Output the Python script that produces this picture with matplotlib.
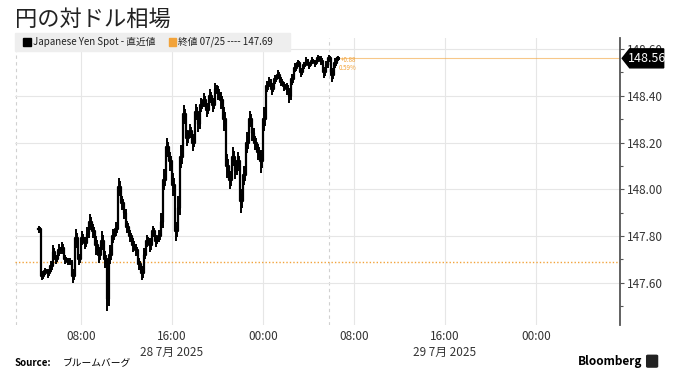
import numpy as np
import matplotlib
matplotlib.use("Agg")
import matplotlib.pyplot as plt
from matplotlib.patches import Rectangle, Polygon, FancyBboxPatch

plt.rcParams['font.family'] = ['Noto Sans CJK JP', 'DejaVu Sans']

# yen per dollar, 15 minute steps from 28 Jul 04:15 (hours since 28 Jul 00:00)
start_hour = 4.25
step_hour = 0.25
usdjpy = [147.83, 147.63, 147.65, 147.64, 147.67, 147.73, 147.70, 147.74, 147.75, 147.70,
          147.69, 147.69, 147.63, 147.79, 147.70, 147.79, 147.77, 147.81, 147.86, 147.82,
          147.76, 147.72, 147.78, 147.70, 147.53, 147.72, 147.80, 147.83, 148.01, 147.94,
          147.90, 147.84, 147.80, 147.76, 147.74, 147.68, 147.64, 147.72, 147.78, 147.76,
          147.82, 147.78, 147.80, 147.86, 148.04, 148.18, 148.12, 148.02, 147.82, 147.92,
          148.14, 148.32, 148.22, 148.25, 148.20, 148.33, 148.28, 148.36, 148.38, 148.34,
          148.40, 148.36, 148.43, 148.41, 148.38, 148.30, 148.10, 148.04, 148.14, 148.08,
          148.12, 147.95, 148.06, 148.20, 148.30, 148.24, 148.20, 148.16, 148.12, 148.30,
          148.44, 148.46, 148.43, 148.47, 148.49, 148.46, 148.44, 148.43, 148.40, 148.47,
          148.52, 148.54, 148.50, 148.53, 148.55, 148.53, 148.55, 148.54, 148.56, 148.55,
          148.50, 148.53, 148.56, 148.49, 148.54, 148.56]
# high-low range inside each 15 minute step
step_range = [0.03, 0.04, 0.03, 0.04, 0.05, 0.06, 0.04, 0.05, 0.05, 0.04,
              0.03, 0.03, 0.06, 0.08, 0.05, 0.06, 0.05, 0.06, 0.07, 0.06,
              0.08, 0.07, 0.08, 0.07, 0.10, 0.08, 0.06, 0.06, 0.08, 0.06,
              0.05, 0.05, 0.05, 0.06, 0.05, 0.05, 0.06, 0.06, 0.05, 0.06,
              0.05, 0.05, 0.05, 0.08, 0.09, 0.08, 0.08, 0.10, 0.08, 0.10,
              0.10, 0.08, 0.07, 0.06, 0.07, 0.07, 0.07, 0.06, 0.06, 0.06,
              0.06, 0.06, 0.05, 0.06, 0.07, 0.10, 0.10, 0.08, 0.08, 0.07,
              0.08, 0.10, 0.08, 0.09, 0.07, 0.07, 0.06, 0.07, 0.10, 0.10,
              0.05, 0.04, 0.05, 0.04, 0.04, 0.04, 0.04, 0.05, 0.06, 0.05,
              0.04, 0.03, 0.04, 0.03, 0.03, 0.03, 0.03, 0.03, 0.03, 0.04,
              0.05, 0.04, 0.03, 0.06, 0.04, 0.02]
prev_close = 147.69
last_value = 148.56
change_txt = ['+0.88', '0.59%']

tick_hours = [8, 16, 24, 32, 40, 48]
tick_labels = ['08:00', '16:00', '00:00', '08:00', '16:00', '00:00']
date_hours = [16, 40]
date_labels = ['28 7月 2025', '29 7月 2025']
session_lines = [2.3, 29.8]

hours = start_hour + step_hour * np.arange(len(usdjpy))
vals = np.array(usdjpy)
half = np.array(step_range) / 2

orange = '#f2a33a'
grid_c = '#e6e6e6'

fig = plt.figure(figsize=(6.8, 3.8), dpi=100)
ax = fig.add_axes([0.022, 0.145, 0.89, 0.755])

ax.set_xlim(2.2, 55.4)
ax.set_ylim(147.42, 148.647)

for h in tick_hours:
    ax.axvline(h, color=grid_c, lw=0.8, zorder=0)
for h in session_lines:
    ax.axvline(h, color='#d0d0d0', lw=0.8, ls=(0, (3, 3)), zorder=0)
for v in np.arange(147.6, 148.61, 0.2):
    ax.axhline(v, color=grid_c, lw=0.8, zorder=0)

ax.axhline(prev_close, color=orange, lw=1.0, ls=(0, (1, 1.5)), zorder=1)
ax.plot([hours[-1], 55.4], [last_value, last_value], color=orange, lw=0.8, alpha=0.6, zorder=1)

# intra-step swings, then the closing path on top
ax.vlines(hours + step_hour * 0.3, vals - half, vals + half, color='black', lw=1.4, zorder=3)
ax.vlines(hours + step_hour * 0.7, vals - half * 0.6, vals + half * 0.6, color='black',
          lw=1.4, zorder=3)
ax.plot(hours, vals, color='black', lw=1.6, drawstyle='steps-post', zorder=3)

ax.text(hours[-1] + 0.35, last_value - 0.005, change_txt[0], color=orange, fontsize=4.5,
        va='center', ha='left')
ax.text(hours[-1] + 0.2, last_value - 0.042, change_txt[1], color=orange, fontsize=4.5,
        va='center', ha='left')

for s in ['left', 'top', 'bottom']:
    ax.spines[s].set_visible(False)
ax.spines['right'].set_color('#555555')
ax.spines['right'].set_linewidth(1.3)

ax.yaxis.tick_right()
ax.set_yticks(np.arange(147.6, 148.61, 0.2))
ax.set_yticklabels([f'{v:.2f}' for v in np.arange(147.6, 148.61, 0.2)])
ax.set_yticks(np.arange(147.5, 148.61, 0.2), minor=True)
ax.tick_params(axis='y', which='major', length=3, width=0.8, color='#555555',
               labelsize=8.5, labelcolor='#333333', pad=2)
ax.tick_params(axis='y', which='minor', length=2.5, width=0.8, color='#555555')

ax.set_xticks(tick_hours)
ax.set_xticklabels(tick_labels)
ax.tick_params(axis='x', length=0, labelsize=8.5, labelcolor='#333333', pad=4)
for h, lab in zip(date_hours, date_labels):
    ax.text(h, -0.075, lab, transform=ax.get_xaxis_transform(), ha='center', va='top',
            fontsize=8.5, color='#333333')

# last value tag
tag_y = ax.transData.transform((0, last_value))[1] / fig.bbox.height
x0 = 0.912
fig.patches.append(Polygon([[x0 + 0.003, tag_y], [x0 + 0.014, tag_y + 0.025],
                            [x0 + 0.064, tag_y + 0.025], [x0 + 0.064, tag_y - 0.025],
                            [x0 + 0.014, tag_y - 0.025]], closed=True,
                           transform=fig.transFigure, color='black', zorder=5))
fig.text(x0 + 0.039, tag_y, f'{last_value:.2f}', color='white', fontsize=9,
         ha='center', va='center', zorder=6)

# title and legend strip
fig.text(0.022, 0.95, '円の対ドル相場', fontsize=16, ha='left', va='center', color='#222222')
fig.patches.append(Rectangle((0.022, 0.865), 0.405, 0.048, transform=fig.transFigure,
                             color='#eeeeee', zorder=0))
fig.patches.append(Rectangle((0.034, 0.879), 0.011, 0.02, transform=fig.transFigure,
                             color='black'))
fig.text(0.049, 0.889, 'Japanese Yen Spot - 直近値', fontsize=7, ha='left', va='center',
         color='#222222')
fig.patches.append(Rectangle((0.248, 0.879), 0.011, 0.02, transform=fig.transFigure,
                             color=orange))
fig.text(0.262, 0.889, '終値 07/25 ---- 147.69', fontsize=7, ha='left', va='center',
         color='#222222')

# footer
fig.text(0.022, 0.045, 'Source:', fontsize=7, fontweight='bold', ha='left', va='center')
fig.text(0.092, 0.045, 'ブルームバーグ', fontsize=7, ha='left', va='center', style='italic')
fig.text(0.945, 0.05, 'Bloomberg', fontsize=8.5, fontweight='bold', ha='right', va='center')
fig.patches.append(FancyBboxPatch((0.953, 0.036), 0.012, 0.027, transform=fig.transFigure,
                                  boxstyle='round,pad=0.002', color='#222222'))

fig.savefig('out.png', dpi=100, facecolor='white')
